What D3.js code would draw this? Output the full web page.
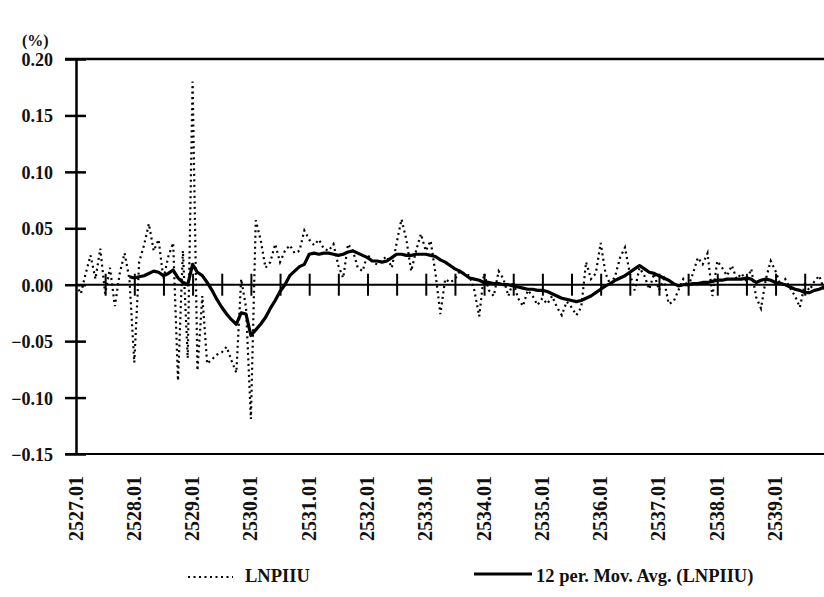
<!DOCTYPE html>
<html>
<head>
<meta charset="utf-8">
<script src="https://cdn.jsdelivr.net/npm/d3@7"></script>
<style>
  body { margin: 0; background: #fff; }
  svg text { font-family: "Liberation Serif", "DejaVu Serif", serif; font-weight: bold; fill: #111; }
</style>
</head>
<body>
<div id="chart"></div>
<script>
var svgWidth = 824;
var svgHeight = 597;

// year labels on the x axis (one every 12 months)
var yearLabels = ["2527.01", "2528.01", "2529.01", "2530.01", "2531.01", "2532.01", "2533.01",
    "2534.01", "2535.01", "2536.01", "2537.01", "2538.01", "2539.01"];
var yTicks = [0.20, 0.15, 0.10, 0.05, 0.00, -0.05, -0.10, -0.15];

// LNPIIU, monthly from 2527.01 (month index 0)
var lnpiiu = [
    0.000, -0.008, 0.010, 0.026, 0.005, 0.032, -0.008, 0.015, -0.019, 0.010, 0.028, 0.005,
    -0.069, 0.020, 0.035, 0.054, 0.030, 0.040, 0.005, 0.025, 0.037, -0.085, 0.030, -0.065,
    0.180, -0.076, -0.010, -0.070, -0.066, -0.062, -0.060, -0.055, -0.067, -0.078, 0.005, -0.020,
    -0.119, 0.057, 0.040, 0.015, 0.020, 0.036, 0.020, 0.030, 0.035, 0.028, 0.030, 0.048,
    0.040, 0.035, 0.040, 0.032, 0.030, 0.036, 0.017, 0.006, 0.036, 0.030, 0.015, 0.012,
    0.027, 0.020, 0.018, 0.022, 0.025, 0.015, 0.037, 0.058, 0.040, 0.012, 0.030, 0.045,
    0.030, 0.039, 0.010, -0.026, 0.005, 0.002, 0.005, 0.012, 0.010, 0.008, -0.005, -0.028,
    0.010, -0.005, -0.010, 0.012, 0.005, -0.010, 0.003, -0.012, -0.019, -0.005, -0.010, -0.018,
    -0.012, -0.017, -0.010, -0.020, -0.027, -0.015, -0.020, -0.027, -0.020, 0.020, 0.005, 0.010,
    0.037, 0.010, 0.000, 0.008, 0.024, 0.033, 0.010, -0.005, 0.015, 0.008, -0.004, 0.010,
    -0.005, 0.005, -0.017, -0.015, -0.005, 0.005, -0.002, 0.010, 0.024, 0.018, 0.028, -0.010,
    0.021, 0.015, 0.008, 0.017, 0.005, 0.010, 0.003, 0.014, -0.011, -0.021, 0.005, 0.021,
    0.012, 0.000, 0.005, -0.003, -0.010, -0.020, 0.000, -0.005, 0.003, 0.008, -0.005, 0.002
];

// 12 per. moving average, starts at month index 11
var maStart = 11;
var movAvg = [
    0.007,
    0.006, 0.007, 0.008, 0.010, 0.012, 0.011, 0.008, 0.010, 0.013, 0.006, 0.002, 0.000,
    0.018, 0.011, 0.008, 0.002, -0.005, -0.013, -0.020, -0.026, -0.031, -0.035, -0.025, -0.026,
    -0.045, -0.040, -0.035, -0.029, -0.021, -0.014, -0.006, 0.000, 0.008, 0.012, 0.016, 0.018,
    0.027, 0.028, 0.027, 0.028, 0.028, 0.027, 0.026, 0.027, 0.029, 0.030, 0.028, 0.026,
    0.024, 0.021, 0.021, 0.020, 0.021, 0.024, 0.027, 0.027, 0.026, 0.026, 0.027, 0.027,
    0.027, 0.026, 0.025, 0.022, 0.020, 0.017, 0.014, 0.012, 0.009, 0.006, 0.005, 0.004,
    0.002, 0.002, 0.001, 0.001, 0.000, 0.000, -0.001, -0.002, -0.003, -0.004, -0.004, -0.005,
    -0.005, -0.006, -0.008, -0.010, -0.012, -0.013, -0.014, -0.015, -0.014, -0.012, -0.010, -0.007,
    -0.004, -0.001, 0.001, 0.004, 0.006, 0.008, 0.011, 0.014, 0.017, 0.014, 0.011, 0.010,
    0.008, 0.006, 0.004, 0.001, -0.001, 0.000, 0.000, 0.001, 0.001, 0.002, 0.002, 0.003,
    0.004, 0.004, 0.005, 0.005, 0.005, 0.005, 0.006, 0.005, 0.002, 0.004, 0.005, 0.004,
    0.002, 0.001, 0.000, -0.002, -0.004, -0.005, -0.007, -0.007, -0.005, -0.004, -0.002, -0.001
];

var svg = d3.select("#chart")
    .append("svg")
    .attr("width", svgWidth)
    .attr("height", svgHeight);

var x = d3.scaleLinear()
    .domain([0, 155])
    .range([76, 829]);

var y = d3.scaleLinear()
    .domain([-0.15, 0.20])
    .range([454, 59]);

// frame: top line, bottom line, left axis
svg.append("line")
    .attr("x1", 65).attr("x2", svgWidth)
    .attr("y1", y(0.20)).attr("y2", y(0.20))
    .attr("stroke", "#000").attr("stroke-width", 2.5);

svg.append("line")
    .attr("x1", 65).attr("x2", svgWidth)
    .attr("y1", y(-0.15)).attr("y2", y(-0.15))
    .attr("stroke", "#000").attr("stroke-width", 2);

var leftAxis = d3.axisLeft(y)
    .tickValues(yTicks)
    .tickSize(0)
    .tickFormat(d3.format(".2f"));

var yAxisG = svg.append("g")
    .attr("transform", `translate(${x(0)}, 0)`)
    .call(leftAxis);
yAxisG.select(".domain").attr("stroke", "#000").attr("stroke-width", 2.5);
yAxisG.selectAll(".tick line")
    .attr("x1", -11).attr("x2", 10)
    .attr("stroke", "#000").attr("stroke-width", 2.5);
yAxisG.selectAll(".tick text")
    .attr("x", -23)
    .attr("dy", "0.36em")
    .style("font-size", "18px")
    .style("font-family", "Liberation Serif, serif")
    .style("font-weight", "bold")
    .text(d => d === 0 ? "0.00" : d3.format(".2f")(d));

svg.append("text")
    .attr("x", 22)
    .attr("y", 46)
    .style("font-size", "16px")
    .text("(%)");

// zero line with ticks every 6 months
var zeroAxis = d3.axisBottom(x)
    .tickValues(d3.range(6, 156, 6))
    .tickSize(0)
    .tickFormat("");

var zeroG = svg.append("g")
    .attr("transform", `translate(0, ${y(0)})`)
    .call(zeroAxis);
zeroG.select(".domain")
    .attr("d", `M${x(0)},0H${svgWidth}`)
    .attr("stroke", "#000").attr("stroke-width", 2);
zeroG.selectAll(".tick line")
    .attr("y1", -11).attr("y2", 11)
    .attr("stroke", "#000").attr("stroke-width", 2);

// year labels below the frame
var labelAxis = d3.axisBottom(x)
    .tickValues(d3.range(0, 156, 12))
    .tickSize(0)
    .tickFormat((d, i) => yearLabels[i]);

var labelG = svg.append("g")
    .attr("transform", `translate(0, ${y(-0.15)})`)
    .call(labelAxis);
labelG.select(".domain").remove();
labelG.selectAll(".tick text")
    .attr("transform", "rotate(-90)")
    .attr("x", -22)
    .attr("y", -1)
    .attr("dy", "0.35em")
    .style("text-anchor", "end")
    .style("font-size", "20px")
    .style("font-family", "Liberation Serif, serif")
    .style("font-weight", "bold");

// series
var rawLine = d3.line()
    .x((d, i) => x(i))
    .y(d => y(d));

var maLine = d3.line()
    .x((d, i) => x(i + maStart))
    .y(d => y(d));

svg.append("defs").append("clipPath")
    .attr("id", "plot")
    .append("rect")
    .attr("x", x(0)).attr("y", y(0.20))
    .attr("width", svgWidth - x(0)).attr("height", y(-0.15) - y(0.20));

svg.append("path")
    .datum(lnpiiu)
    .attr("clip-path", "url(#plot)")
    .attr("d", rawLine)
    .attr("fill", "none")
    .attr("stroke", "#000")
    .attr("stroke-width", 2.2)
    .attr("stroke-dasharray", "2,3.5");

svg.append("path")
    .datum(movAvg)
    .attr("clip-path", "url(#plot)")
    .attr("d", maLine)
    .attr("fill", "none")
    .attr("stroke", "#000")
    .attr("stroke-width", 3.2)
    .attr("stroke-linejoin", "round");

// legend
var legend = svg.append("g");
legend.append("line")
    .attr("x1", 188).attr("x2", 233)
    .attr("y1", 577).attr("y2", 577)
    .attr("stroke", "#000").attr("stroke-width", 2.2)
    .attr("stroke-dasharray", "2,3.5");
legend.append("text")
    .attr("x", 245).attr("y", 582)
    .style("font-size", "18.5px")
    .text("LNPIIU");
legend.append("line")
    .attr("x1", 474).attr("x2", 532)
    .attr("y1", 574).attr("y2", 574)
    .attr("stroke", "#000").attr("stroke-width", 3.2);
legend.append("text")
    .attr("x", 536).attr("y", 582)
    .style("font-size", "18.5px")
    .text("12 per. Mov. Avg. (LNPIIU)");
</script>
</body>
</html>
